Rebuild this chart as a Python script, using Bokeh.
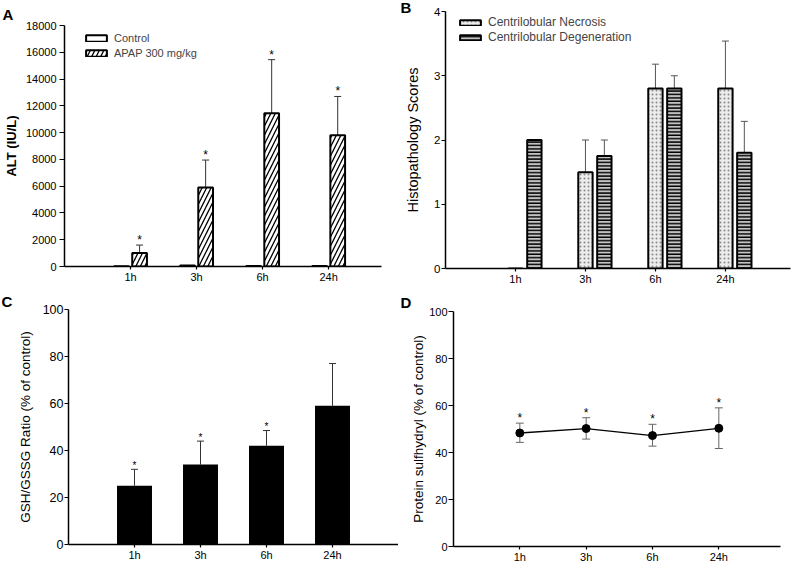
from bokeh.plotting import figure
from bokeh.models import (FixedTicker, Whisker, TeeHead, ColumnDataSource,
                          Legend, LegendItem, Range1d)
from bokeh.layouts import row, column
from bokeh.embed import file_html
from bokeh.resources import INLINE
from bokeh.core.properties import value

# ---------------- data ----------------
hours = ["1h", "3h", "6h", "24h"]
xpos = [1, 2, 3, 4]

# Panel A: ALT (IU/L)
alt_control = [20, 70, 30, 30]
alt_apap = [1000, 5900, 11450, 9800]
alt_apap_upper = [1600, 7950, 15450, 12700]
alt_ticks = [0, 2000, 4000, 6000, 8000, 10000, 12000, 14000, 16000, 18000]

# Panel B: histopathology scores
necrosis = [0, 1.5, 2.8, 2.8]
necrosis_upper = [None, 2.0, 3.18, 3.54]
degeneration = [2.0, 1.75, 2.8, 1.8]
degeneration_upper = [None, 2.0, 3.0, 2.29]
histo_ticks = [0, 1, 2, 3, 4]

# Panel C: GSH/GSSG ratio (% of control)
gsh_ratio = [25, 34, 42, 59]
gsh_upper = [32, 44, 48.5, 77]
gsh_sig = [True, True, True, False]

# Panel D: protein sulfhydryl (% of control)
psh_mean = [48.3, 50.2, 47.2, 50.3]
psh_lower = [44.3, 45.7, 42.7, 41.7]
psh_upper = [52.5, 54.8, 52.0, 59.0]
psh_sig = [True, True, True, True]

pct_ticks = [0, 20, 40, 60, 80, 100]

FONT = "Liberation Sans"
ERR = "#333333"


def make_fig(width, height, left, right, top, bottom, xr, yr, yticks,
             ylab_size="11px", ytick_out=5, ystandoff=3):
    p = figure(width=width, height=height,
               min_border_left=left, min_border_right=right,
               min_border_top=top, min_border_bottom=bottom,
               x_range=Range1d(*xr), y_range=Range1d(*yr),
               output_backend="svg", toolbar_location=None, tools="",
               frame_align=False)
    p.outline_line_color = None
    p.grid.visible = False
    p.background_fill_color = "white"
    p.border_fill_color = "white"
    for ax in (p.xaxis[0], p.yaxis[0]):
        ax.axis_line_width = 1.5
        ax.axis_line_color = "black"
        ax.major_tick_line_color = "black"
        ax.major_tick_line_width = 1.2
        ax.minor_tick_line_color = None
        ax.major_tick_in = 0
        ax.major_label_text_font = FONT
        ax.major_label_text_font_size = "11px"
        ax.major_label_text_color = "black"
        ax.axis_label_text_font = FONT
        ax.axis_label_text_font_style = "normal"
        ax.axis_label_text_color = "black"
    p.xaxis.ticker = FixedTicker(ticks=xpos)
    p.xaxis.major_label_overrides = {x: h for x, h in zip(xpos, hours)}
    p.xaxis.major_tick_out = 3
    p.xaxis.major_label_standoff = 1
    p.yaxis.ticker = FixedTicker(ticks=yticks)
    p.yaxis.major_tick_out = ytick_out
    p.yaxis.major_label_standoff = ystandoff
    p.yaxis.major_label_text_font_size = ylab_size
    return p


def letter(p, txt, offset, standoff):
    p.title.text = txt
    p.title.align = "left"
    p.title.offset = offset
    p.title.standoff = standoff
    p.title.text_font = FONT
    p.title.text_font_size = "15px"
    p.title.text_font_style = "bold"
    p.title.text_color = "black"


def stars(p, xs, ys, size="12px", yoff=-5):
    p.text(x=xs, y=ys, text=["*"] * len(xs), text_font=value(FONT),
           text_font_size=size, text_align="center",
           text_baseline="alphabetic", y_offset=yoff, text_color="black")


# ---------------- Panel A ----------------
pA = make_fig(398, 290, 64, 17, 25, 24, (0, 4.8), (0, 18000), alt_ticks)
bwA = 0.223
offA = 0.137
xc = [x - offA for x in xpos]
xa = [x + offA for x in xpos]
rC = pA.vbar(x=xc, top=alt_control, width=bwA, bottom=0,
             fill_color="white", line_color="black", line_width=2)
rA = pA.vbar(x=xa, top=alt_apap, width=bwA, bottom=0,
             fill_color="white", line_color="black", line_width=2,
             hatch_pattern="/", hatch_color="black", hatch_scale=9,
             hatch_weight=1.3)
srcA = ColumnDataSource(dict(x=xa, lower=alt_apap, upper=alt_apap_upper))
pA.add_layout(Whisker(base="x", lower="lower", upper="upper", source=srcA,
                      line_color=ERR, line_width=1,
                      upper_head=TeeHead(size=7, line_color=ERR, line_width=1),
                      lower_head=None))
stars(pA, xa, alt_apap_upper, "12px", -5)
pA.yaxis.axis_label = "ALT (IU/L)"
pA.yaxis.axis_label_text_font_style = "bold"
pA.yaxis.axis_label_text_font_size = "13px"
pA.yaxis.axis_label_standoff = 4
legA = Legend(items=[LegendItem(label="Control", renderers=[rC]),
                     LegendItem(label="APAP 300 mg/kg", renderers=[rA])],
              location=(19, 207), glyph_width=26, glyph_height=8,
              label_text_font=FONT, label_text_font_size="11px",
              label_standoff=5, spacing=2, padding=0, margin=0,
              label_height=13, border_line_color=None,
              background_fill_alpha=0)
pA.add_layout(legA)
letter(pA, "A", -62, 6)

# ---------------- Panel B ----------------
pB = make_fig(393, 290, 47, 1, 11, 22, (0, 4.93), (0, 4), histo_ticks,
              ylab_size="11.5px", ytick_out=4, ystandoff=1)
bwB = 0.205
offB = 0.27
xn = list(xpos)
xd = [x + offB for x in xpos]
rN = pB.vbar(x=xn, top=necrosis, width=bwB, bottom=0,
             fill_color="#ececec", line_color="black", line_width=2,
             hatch_pattern=".", hatch_color="#8a8a8a", hatch_scale=4,
             hatch_weight=1)
rD = pB.vbar(x=xd, top=degeneration, width=bwB, bottom=0,
             fill_color="#c4c4c4", line_color="black", line_width=2,
             hatch_pattern="-", hatch_color="black", hatch_scale=3.4,
             hatch_weight=1.5)
nx = [x for x, u in zip(xn, necrosis_upper) if u is not None]
nl = [v for v, u in zip(necrosis, necrosis_upper) if u is not None]
nu = [u for u in necrosis_upper if u is not None]
dx_ = [x for x, u in zip(xd, degeneration_upper) if u is not None]
dl = [v for v, u in zip(degeneration, degeneration_upper) if u is not None]
du = [u for u in degeneration_upper if u is not None]
for bx, bl, bu in ((nx, nl, nu), (dx_, dl, du)):
    s = ColumnDataSource(dict(x=bx, lower=bl, upper=bu))
    pB.add_layout(Whisker(base="x", lower="lower", upper="upper", source=s,
                          line_color="#555555", line_width=1,
                          upper_head=TeeHead(size=7, line_color="#555555",
                                             line_width=1),
                          lower_head=None))
pB.yaxis.axis_label = "Histopathology Scores"
pB.yaxis.axis_label_text_font_size = "14.5px"
pB.yaxis.axis_label_standoff = 10
legB = Legend(items=[LegendItem(label="Centrilobular Necrosis", renderers=[rN]),
                     LegendItem(label="Centrilobular Degeneration", renderers=[rD])],
              location=(12, 224), glyph_width=26, glyph_height=7,
              label_text_font=FONT, label_text_font_size="12px",
              label_standoff=5, spacing=1, padding=0, margin=0,
              label_height=14, border_line_color=None,
              background_fill_alpha=0)
pB.add_layout(legB)
letter(pB, "B", -45, -8)

# ---------------- Panel C ----------------
pC = make_fig(398, 276, 68, 0, 19, 22, (0, 5), (0, 100), pct_ticks,
              ylab_size="12.5px", ytick_out=4, ystandoff=1)
pC.vbar(x=xpos, top=gsh_ratio, width=0.53, bottom=0,
        fill_color="black", line_color=None)
srcC = ColumnDataSource(dict(x=xpos, lower=gsh_ratio, upper=gsh_upper))
pC.add_layout(Whisker(base="x", lower="lower", upper="upper", source=srcC,
                      line_color=ERR, line_width=1,
                      upper_head=TeeHead(size=7, line_color=ERR, line_width=1),
                      lower_head=None))
sx = [x for x, s in zip(xpos, gsh_sig) if s]
sy = [u for u, s in zip(gsh_upper, gsh_sig) if s]
stars(pC, sx, sy, "10px", -4)
pC.yaxis.axis_label = "GSH/GSSG Ratio (% of control)"
pC.yaxis.axis_label_text_font_size = "13.5px"
pC.yaxis.axis_label_standoff = 7
letter(pC, "C", -67, 0)

# ---------------- Panel D ----------------
pD = make_fig(393, 276, 55, 11, 21, 20, (0, 4.93), (0, 100), pct_ticks,
              ylab_size="11px", ytick_out=5, ystandoff=1)
srcD = ColumnDataSource(dict(x=xpos, lower=psh_lower, upper=psh_upper))
pD.add_layout(Whisker(base="x", lower="lower", upper="upper", source=srcD,
                      line_color="#666666", line_width=1,
                      upper_head=TeeHead(size=8, line_color="#666666", line_width=1),
                      lower_head=TeeHead(size=8, line_color="#666666", line_width=1)))
pD.line(xpos, psh_mean, line_color="black", line_width=1.3)
pD.scatter(xpos, psh_mean, size=8, marker="circle", fill_color="black",
           line_color="black")
dsx = [x for x, s in zip(xpos, psh_sig) if s]
dsy = [u for u, s in zip(psh_upper, psh_sig) if s]
stars(pD, dsx, dsy, "12px", -5)
pD.yaxis.axis_label = "Protein sulfhydryl (% of control)"
pD.yaxis.axis_label_text_font_size = "13.5px"
pD.yaxis.axis_label_standoff = 0
letter(pD, "D", -53, 2)

layout = column(row(pA, pB), row(pC, pD))
open("out.html", "w").write(file_html(layout, INLINE))
